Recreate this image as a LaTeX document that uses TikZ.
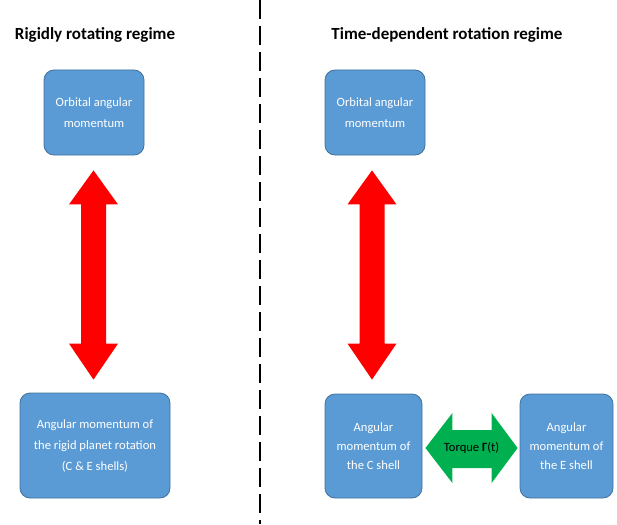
\documentclass[tikz,border=0pt]{standalone}
\usepackage{fontspec}
\setmainfont{Carlito}
\usetikzlibrary{calc}

\definecolor{boxblue}{HTML}{5B9BD5}
\definecolor{boxedge}{HTML}{41719C}
\definecolor{torquegreen}{HTML}{00B050}

\tikzset{
	mombox/.style={draw=boxedge,line width=0.8pt,fill=boxblue,rounded corners=10pt,
		text=white,align=center,inner sep=0pt,font=\fontsize{12.6}{21}\selectfont},
	regime/.style={font=\fontsize{17}{20}\selectfont\bfseries},
}

\begin{document}
\begin{tikzpicture}[x=1pt,y=-1pt]
	\useasboundingbox (0,0) rectangle (617,524);
	
	%separator
	\coordinate (septop) at (260,0);
	\coordinate (sepbot) at (260,524);
	\draw[line width=1.4pt,dash pattern=on 19pt off 7pt] (septop) -- (sepbot);
	
	\node[regime] (tleft) at (95,35) {Rigidly rotating regime};
	\node[regime] (tright) at (447,35) {Time-dependent rotation regime};
	
	%left side
	\node[mombox,minimum width=100pt,minimum height=85pt] (orbl) at (94,112.5) {Orbital angular\\momentum};
	\node[mombox,minimum width=150pt,minimum height=105pt] (rigid) at (95,445.5) {Angular momentum of\\the rigid planet rotation\\(C \& E shells)};
	\coordinate (la) at ($(orbl.south)+(-0.5,15)$);
	\coordinate (lb) at ($(rigid.north)+(-1.5,-13)$);
	\fill[red] (la) -- ++(24.5,34) -- ++(-12,0) -- ($(lb)+(12.5,-36)$) -- ++(12,0) -- (lb)
		-- ++(-24.5,-36) -- ++(12,0) -- ($(la)+(-12.5,34)$) -- ++(-12,0) -- cycle;
	
	%right side
	\node[mombox,minimum width=100pt,minimum height=85pt] (orbr) at (375,112.5) {Orbital angular\\momentum};
	\node[mombox,minimum width=97pt,minimum height=104pt,font=\fontsize{12.6}{19}\selectfont] (cshell) at (373.5,446) {Angular\\momentum of\\the C shell};
	\node[mombox,minimum width=93pt,minimum height=104pt,font=\fontsize{12.6}{19}\selectfont] (eshell) at (566.5,446) {Angular\\momentum of\\the E shell};
	\coordinate (ra) at ($(orbr.south)+(-3,15)$);
	\coordinate (rb) at ($(cshell.north)+(-1.5,-14)$);
	\fill[red] (ra) -- ++(24.5,34) -- ++(-12,0) -- ($(rb)+(12.5,-36)$) -- ++(12,0) -- (rb)
		-- ++(-24.5,-36) -- ++(12,0) -- ($(ra)+(-12.5,34)$) -- ++(-12,0) -- cycle;
	
	%torque
	\coordinate (ga) at ($(cshell.east)+(3,2)$);
	\coordinate (gb) at ($(eshell.west)+(-2,2)$);
	\fill[torquegreen] (ga) -- ++(27,-35) -- ++(0,17) -- ($(gb)+(-26,-18)$) -- ++(0,-17) -- (gb)
		-- ++(-26,35) -- ++(0,-15) -- ($(ga)+(27,20)$) -- ++(0,15) -- cycle;
	\node[font=\fontsize{12.6}{15}\selectfont] (torque) at ($(ga)!0.5!(gb)$) {Torque \textbf{Γ}(t)};
\end{tikzpicture}
\end{document}
